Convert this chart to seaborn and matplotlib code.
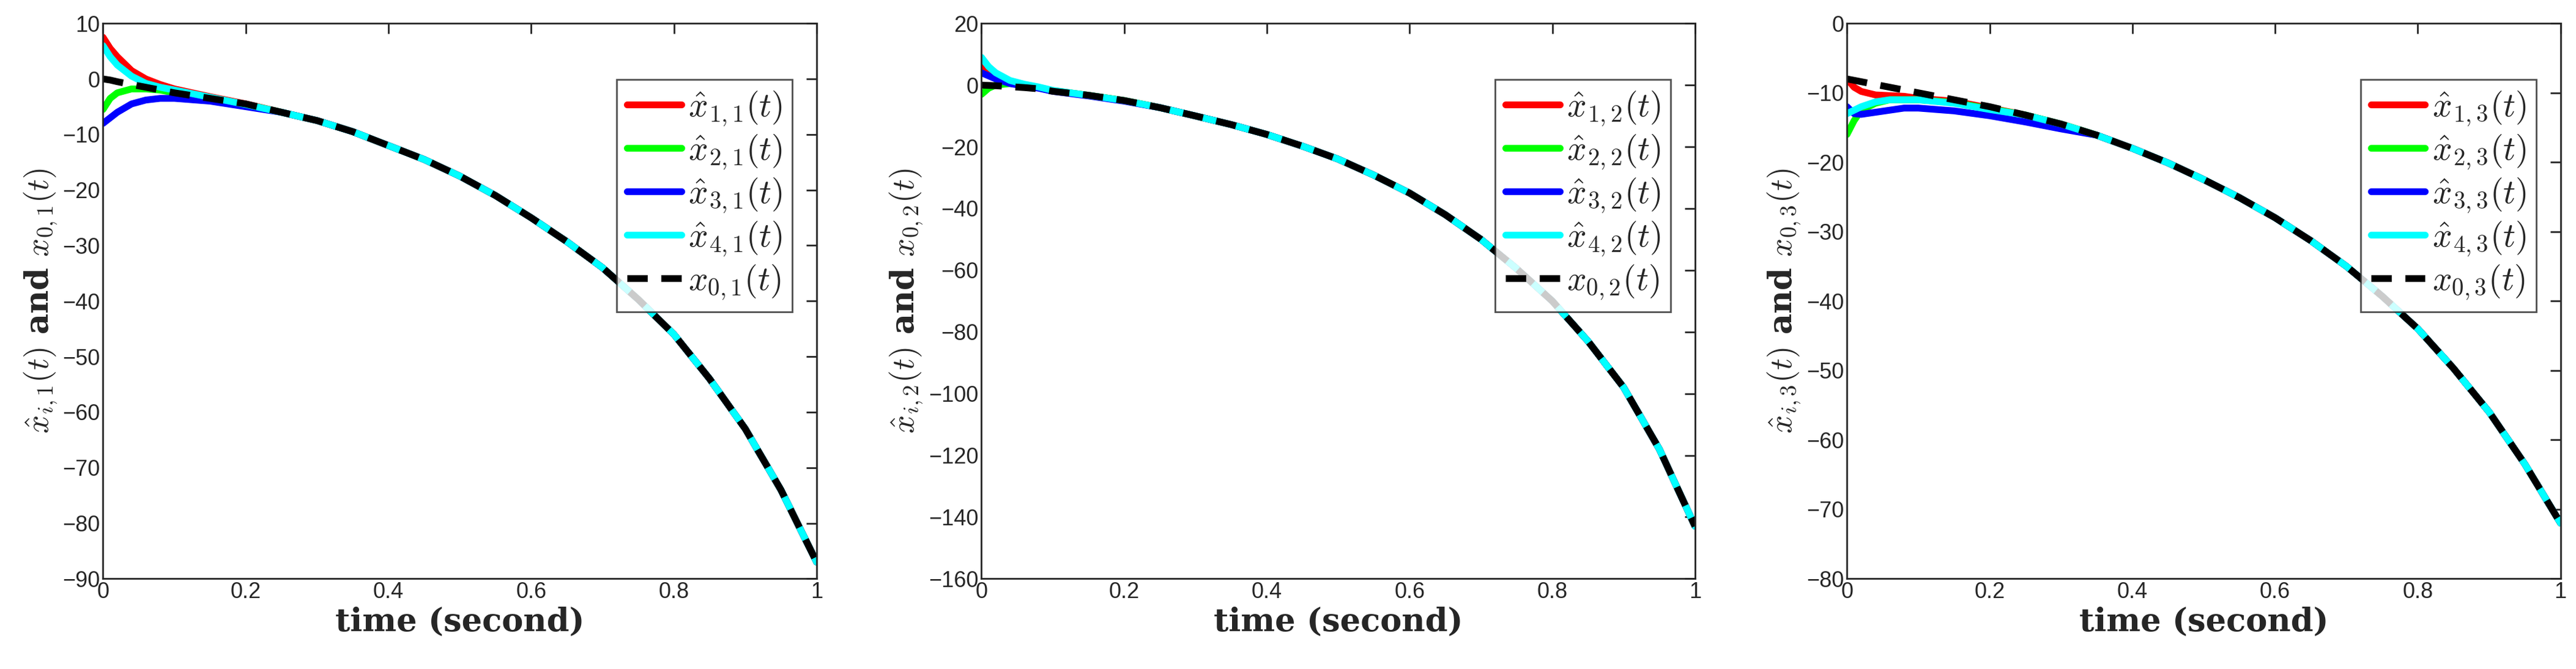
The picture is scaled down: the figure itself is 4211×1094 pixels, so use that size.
import numpy as np
import seaborn as sns
import matplotlib.pyplot as plt

sns.set_theme(style='white')
plt.rcParams['font.family'] = ['Liberation Sans', 'DejaVu Sans']
plt.rcParams['mathtext.fontset'] = 'cm'

# time samples: dense near the start where the estimates converge
t_early = [0, 0.01, 0.02, 0.04, 0.06, 0.08, 0.1, 0.15, 0.2]
t_tail = [0.25, 0.3, 0.35, 0.4, 0.45, 0.5, 0.55, 0.6, 0.65, 0.7, 0.75, 0.8, 0.85, 0.9, 0.95, 1.0]
t = t_early + t_tail

# panel 1: shared tail (all estimates have converged onto x0)
tail_1 = [-6, -7.5, -9.5, -12, -14.5, -17.5, -21, -25, -29.3, -34, -39.7, -46, -54, -63, -74, -87]
x0_1 = [0, -0.2, -0.5, -1, -1.5, -2, -2.5, -3.5, -4.5] + tail_1
x11 = [7.5, 5.5, 4, 1.5, 0, -1, -1.8, -3.2, -4.5] + tail_1
x21 = [-5.5, -3.5, -2.5, -1.8, -1.8, -2, -2.5, -3.5, -4.6] + tail_1
x31 = [-8, -7, -6, -4.5, -3.8, -3.5, -3.5, -4, -5] + tail_1
x41 = [6, 4, 2.5, 0.5, -0.8, -1.5, -2, -3.3, -4.6] + tail_1

# panel 2
tail_2 = [-7.3, -10, -12.8, -16, -19.8, -24, -29.2, -35, -42, -50, -59.5, -70, -83, -98, -118, -143]
x0_2 = [0, -0.1, -0.2, -0.5, -0.8, -1.2, -2, -3.3, -5] + tail_2
x12 = [7, 4, 2.5, 1, 0, -0.8, -1.8, -3.3, -5] + tail_2
x22 = [-3, -1, 0, 0.5, 0, -0.8, -1.8, -3.3, -5] + tail_2
x32 = [4, 3, 2, 0.5, -0.3, -1, -2, -3.5, -5.2] + tail_2
x42 = [9, 6, 4, 1.5, 0.3, -0.6, -1.7, -3.3, -5] + tail_2

# panel 3
tail_3 = [-13.2, -14.5, -16.1, -18, -20.1, -22.5, -25.1, -28, -31.3, -35, -39.3, -44, -49.7, -56, -63.5, -72]
x0_3 = [-8, -8.2, -8.4, -8.8, -9.2, -9.6, -10, -11, -12] + tail_3
x13 = [-8, -9.2, -9.8, -10.3, -10.4, -10.5, -10.8, -11.2, -12.2] + tail_3
x23 = [-16, -14, -12.5, -11.5, -11, -11, -11, -11.4, -12.3] + tail_3
x33 = [-12, -13, -13.1, -12.8, -12.5, -12.2, -12.2, -12.6, -13.3] + [-14.2, -15.2] + tail_3[2:]
x43 = [-13, -12.5, -12, -11.3, -11, -11, -11, -11.5, -12.4] + tail_3

panels = [
    (1, [x11, x21, x31, x41], x0_1, (-90, 10), 10),
    (2, [x12, x22, x32, x42], x0_2, (-160, 20), 20),
    (3, [x13, x23, x33, x43], x0_3, (-80, 0), 10),
]
colors = ['#ff0000', '#00ff00', '#0000ff', '#00ffff']

fig = plt.figure(figsize=(42.11, 10.94), dpi=100)
lefts = [0.040, 0.381, 0.717]
for (j, ests, x0, ylim, step), left in zip(panels, lefts):
    ax = fig.add_axes([left, 0.135, 0.277, 0.83])
    for i, (est, c) in enumerate(zip(ests, colors)):
        sns.lineplot(x=t, y=est, ax=ax, color=c, lw=8,
                     label=r'$\hat{x}_{%d,%d}(t)$' % (i + 1, j))
    sns.lineplot(x=t, y=x0, ax=ax, color='black', lw=8,
                 label=r'$x_{0,%d}(t)$' % j)
    ax.lines[-1].set_dashes([3, 2])
    ax.set_xlim(0, 1)
    ax.set_ylim(*ylim)
    ax.set_yticks(np.arange(ylim[0], ylim[1] + 1, step))
    ax.set_xticks(np.arange(0, 1.01, 0.2))
    ax.set_xticklabels(['0', '0.2', '0.4', '0.6', '0.8', '1'])
    ax.tick_params(direction='in', length=12, width=2, labelsize=26,
                   top=True, right=True, colors='#262626')
    for s in ax.spines.values():
        s.set_linewidth(2)
        s.set_color('#262626')
    ax.set_xlabel('time (second)', fontsize=38, fontweight='bold',
                  family='DejaVu Serif')
    ax.set_ylabel(r'$\hat{x}_{i,%d}(t)$ and $x_{0,%d}(t)$' % (j, j),
                  fontsize=38, fontweight='bold', family='DejaVu Serif')
    leg = ax.legend(loc='upper right', fontsize=40, frameon=True,
                    fancybox=False, handlelength=1.6, handletextpad=0.2,
                    borderaxespad=0.5, borderpad=0.3, labelspacing=0.15,
                    bbox_to_anchor=(0.99, 0.93))
    leg.get_frame().set_edgecolor('#262626')
    leg.get_frame().set_linewidth(2)

fig.savefig('out.png', dpi=100)
